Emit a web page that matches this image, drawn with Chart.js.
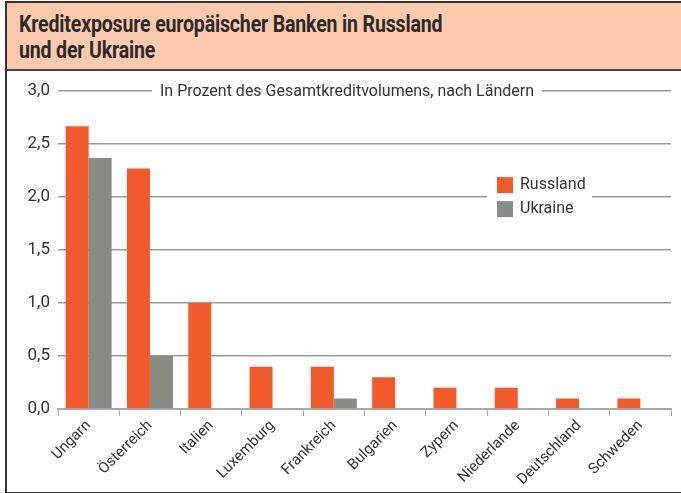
<!DOCTYPE html>
<html>
<head>
<meta charset="utf-8">
<script src="https://cdn.jsdelivr.net/npm/chart.js@4"></script>
<style>
  body { margin: 0; background: #fff; }
  #frame { position: absolute; left: 5px; top: 1px; width: 680px; height: 489px; border-left: 2px solid #333; border-top: 2px solid #333; border-bottom: 2px solid #333; }
  #title { background: #fdcaae; border-bottom: 2px solid #444; padding: 9px 0 0 12px; box-sizing: border-box; height: 68px; }
  #title span { display: inline-block; transform: scaleX(0.85); transform-origin: left top;
           font-family: "Roboto"; font-weight: bold; font-size: 23px; line-height: 26px; color: #2a2a2a; letter-spacing: -0.2px; white-space: nowrap; }
  #wrap { position: absolute; left: 0; top: 70px; width: 674px; height: 419px; }
</style>
</head>
<body>
<div id="frame">
  <div id="title"><span>Kreditexposure europäischer Banken in Russland<br>und der Ukraine</span></div>
  <div id="wrap"><canvas id="myChart"></canvas></div>
</div>
<script>
var countries = ["Ungarn", "Österreich", "Italien", "Luxemburg", "Frankreich", "Bulgarien", "Zypern", "Niederlande", "Deutschland", "Schweden"];
var russland = [2.67, 2.27, 1.0, 0.4, 0.4, 0.3, 0.2, 0.2, 0.1, 0.1];
var ukraine = [2.37, 0.5, 0, 0, 0.1, 0, 0, 0, 0, 0];
var yTicks = [0, 0.5, 1, 1.5, 2, 2.5, 3];
var subtitle = "In Prozent des Gesamtkreditvolumens, nach Ländern";

var fontName = "Roboto";

var overlay = {
  id: 'overlay',
  afterDraw: function(chart) {
    var c = chart.ctx, y = chart.scales.y;
    c.save();
    // subtitle sits on the top gridline
    c.font = "16px " + fontName;
    c.textBaseline = "middle";
    var w = c.measureText(subtitle).width;
    var sx = 153;
    c.fillStyle = "#fff";
    c.fillRect(sx - 8, y.getPixelForValue(3) - 6, w + 16, 12);
    c.fillStyle = "#333";
    c.fillText(subtitle, sx, y.getPixelForValue(3) + 1);
    // legend
    var lx = 490, ly = y.getPixelForValue(2) - 20;
    c.fillStyle = "#fff";
    c.fillRect(lx - 10, ly - 2, 105, 46);
    chart.data.datasets.forEach(function(ds, i) {
      c.fillStyle = ds.backgroundColor;
      c.fillRect(lx, ly + i * 24, 16, 16);
      c.fillStyle = "#333";
      c.fillText(ds.label, lx + 23, ly + i * 24 + 8);
    });
    c.restore();
  }
};

var ctx = document.getElementById("myChart");
var myChart = new Chart(ctx, {
  type: 'bar',
  data: {
    labels: countries,
    datasets: [
      { label: 'Russland', data: russland, backgroundColor: '#f15a2b' },
      { label: 'Ukraine', data: ukraine, backgroundColor: '#878c85' }
    ]
  },
  options: {
    responsive: true,
    maintainAspectRatio: false,
    animation: false,
    layout: { padding: { top: 2, right: 10, bottom: 0, left: 0 } },
    datasets: { bar: { categoryPercentage: 0.75, barPercentage: 1 } },
    plugins: { legend: { display: false }, tooltip: { enabled: false } },
    scales: {
      x: {
        grid: { display: true, drawOnChartArea: false, offset: true, color: '#aaa', tickLength: 7 },
        border: { color: '#aaa', width: 2 },
        ticks: { maxRotation: 45, minRotation: 45, color: '#333', font: { family: fontName, size: 15 }, padding: 1 },
        afterFit: function(s) { s.height = 83; }
      },
      y: {
        min: 0, max: 3,
        afterBuildTicks: function(s) { s.ticks = yTicks.map(function(v) { return { value: v }; }); },
        grid: { color: '#999', lineWidth: 1.5, drawTicks: false },
        border: { display: false },
        ticks: {
          color: '#333', padding: 8,
          font: { family: fontName, size: 17 },
          callback: function(v) { return v.toFixed(1).replace('.', ','); }
        },
        afterFit: function(s) { s.width = 51; }
      }
    }
  },
  plugins: [overlay]
});
</script>
</body>
</html>
